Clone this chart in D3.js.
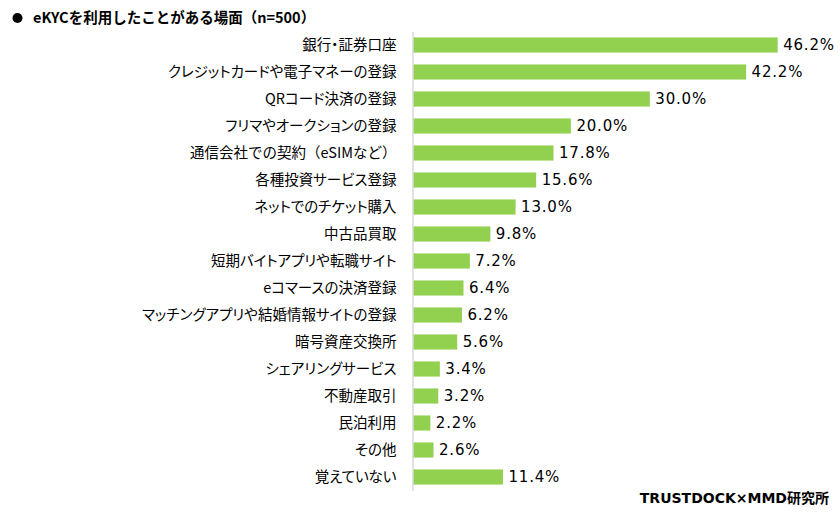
<!DOCTYPE html>
<html><head><meta charset="utf-8">
<script src="https://cdn.jsdelivr.net/npm/d3@7"></script>
<style>body{margin:0;background:#fff}</style>
</head><body>
<script>
const categories = ["銀行・証券口座","クレジットカードや電子マネーの登録","QRコード決済の登録","フリマやオークションの登録","通信会社での契約（eSIMなど）","各種投資サービス登録","ネットでのチケット購入","中古品買取","短期バイトアプリや転職サイト","eコマースの決済登録","マッチングアプリや結婚情報サイトの登録","暗号資産交換所","シェアリングサービス","不動産取引","民泊利用","その他","覚えていない"];
const values = [46.2,42.2,30.0,20.0,17.8,15.6,13.0,9.8,7.2,6.4,6.2,5.6,3.4,3.2,2.2,2.6,11.4];
const title = "eKYCを利用したことがある場面（n=500）";
const source = "TRUSTDOCK×MMD研究所";

const W=840,H=515;
const font = "'Noto Sans CJK JP','Noto Sans',sans-serif";
const numFont = "'DejaVu Sans',sans-serif";
const svg=d3.select("body").append("svg").attr("width",W).attr("height",H);
const x0=413;
const x=d3.scaleLinear().domain([0,46.2]).range([x0,777.7]);
const y=d3.scaleBand().domain(categories).range([31.5,490.5]).paddingInner(0.44).paddingOuter(0.22);

svg.append("circle").attr("cx",17.5).attr("cy",18).attr("r",5).attr("fill","#000");
svg.append("text").attr("x",33).attr("y",23).attr("font-family",font).attr("font-weight","bold")
  .attr("font-size",14.5).attr("fill","#000").text(title);

svg.append("g").selectAll("rect").data(values).join("rect")
  .attr("x",x0).attr("y",(d,i)=>y(categories[i])).attr("width",d=>x(d)-x0)
  .attr("height",y.bandwidth()).attr("fill","#92D050");

const ax=svg.append("g").attr("transform",`translate(${x0-0.5},0)`)
  .call(d3.axisLeft(y).tickSize(0).tickPadding(16));
ax.select(".domain").attr("stroke","#d9d9d9").attr("stroke-width",1.5);
ax.selectAll("text").attr("font-family",font).attr("font-size",14.5).attr("fill","#000")
  .style("font-feature-settings",d=>d.includes("（")?"normal":"'palt' 1");

svg.append("g").selectAll("text").data(values).join("text")
  .attr("x",d=>x(d)+5.5).attr("y",(d,i)=>y(categories[i])+y.bandwidth()/2)
  .attr("dy","0.36em").attr("font-family",numFont).attr("font-size",15).attr("letter-spacing",0.8).attr("fill","#000")
  .text(d=>d.toFixed(1)+"%");

svg.append("text").attr("x",829).attr("y",503).attr("text-anchor","end")
  .attr("font-family","'DejaVu Sans','Noto Sans CJK JP',sans-serif")
  .attr("font-weight","bold").attr("font-size",14).attr("fill","#000").text(source);
</script>
</body></html>
